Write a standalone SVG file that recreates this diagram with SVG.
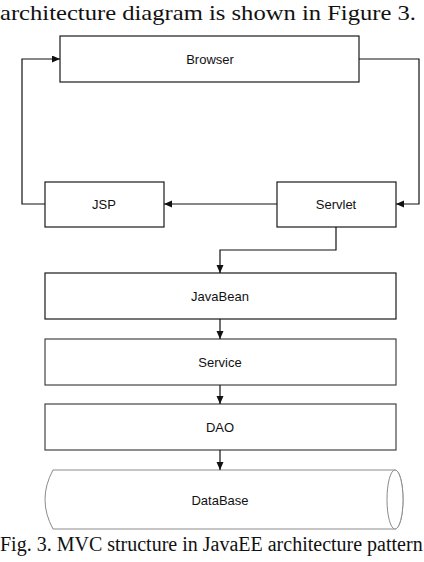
<svg xmlns="http://www.w3.org/2000/svg" width="424" height="562" viewBox="0 0 424 562">
  <style>
    .box { fill: #ffffff; stroke: #1a1a1a; stroke-width: 1.2; }
    .lbl { font-family: "Liberation Sans", Arial, sans-serif; font-size: 13px; fill: #111; text-anchor: middle; }
    .cap { font-family: "Liberation Serif", "Times New Roman", serif; fill: #111; }
    .conn { fill: none; stroke: #111; stroke-width: 1.2; }
    .cyl { fill: #ffffff; stroke: #8a8a8a; stroke-width: 1; }
  </style>
  <defs>
    <marker id="arr" markerUnits="userSpaceOnUse" markerWidth="9" markerHeight="8" refX="8" refY="3.5" orient="auto">
      <path d="M0,0 L8,3.5 L0,7 z" fill="#111"/>
    </marker>
  </defs>
  <rect width="424" height="562" fill="#ffffff"/>

  <text class="cap" x="0" y="20" font-size="22" textLength="416" lengthAdjust="spacingAndGlyphs">architecture diagram is shown in Figure 3.</text>

  <g id="browser">
    <rect class="box" x="60" y="36" width="299" height="46"/>
    <text class="lbl" x="210" y="64">Browser</text>
  </g>
  <g id="jsp">
    <rect class="box" x="45" y="182" width="119" height="45"/>
    <text class="lbl" x="104" y="209">JSP</text>
  </g>
  <g id="servlet">
    <rect class="box" x="277" y="182" width="119" height="45"/>
    <text class="lbl" x="336" y="209">Servlet</text>
  </g>
  <g id="javabean">
    <rect class="box" x="45" y="273" width="351" height="46"/>
    <text class="lbl" x="220" y="301">JavaBean</text>
  </g>
  <g id="service">
    <rect class="box" x="45" y="339" width="351" height="46" style="stroke:#444"/>
    <text class="lbl" x="220" y="367">Service</text>
  </g>
  <g id="dao">
    <rect class="box" x="45" y="404" width="351" height="46" style="stroke:#444"/>
    <text class="lbl" x="220" y="432">DAO</text>
  </g>
  <g id="database">
    <path class="cyl" d="M53,470 H395 A8,29.5 0 0 1 395,529 H53 Q37,499.5 53,470 Z"/>
    <ellipse class="cyl" cx="395" cy="499.5" rx="8" ry="29.5"/>
    <text class="lbl" x="220" y="505">DataBase</text>
  </g>

  <g id="connectors">
    <path class="conn" d="M45,204 H22 V59 H60" marker-end="url(#arr)"/>
    <path class="conn" d="M359,59 H419 V204 H396" marker-end="url(#arr)"/>
    <path class="conn" d="M277,204 H164" marker-end="url(#arr)"/>
    <path class="conn" d="M336,227 V250 H220 V273" marker-end="url(#arr)"/>
    <path class="conn" d="M220,319 V339" marker-end="url(#arr)"/>
    <path class="conn" d="M220,385 V404" marker-end="url(#arr)"/>
    <path class="conn" d="M220,450 V470" marker-end="url(#arr)"/>
  </g>

  <text class="cap" x="0" y="551" font-size="20">Fig. 3. MVC structure in JavaEE architecture pattern</text>
</svg>
